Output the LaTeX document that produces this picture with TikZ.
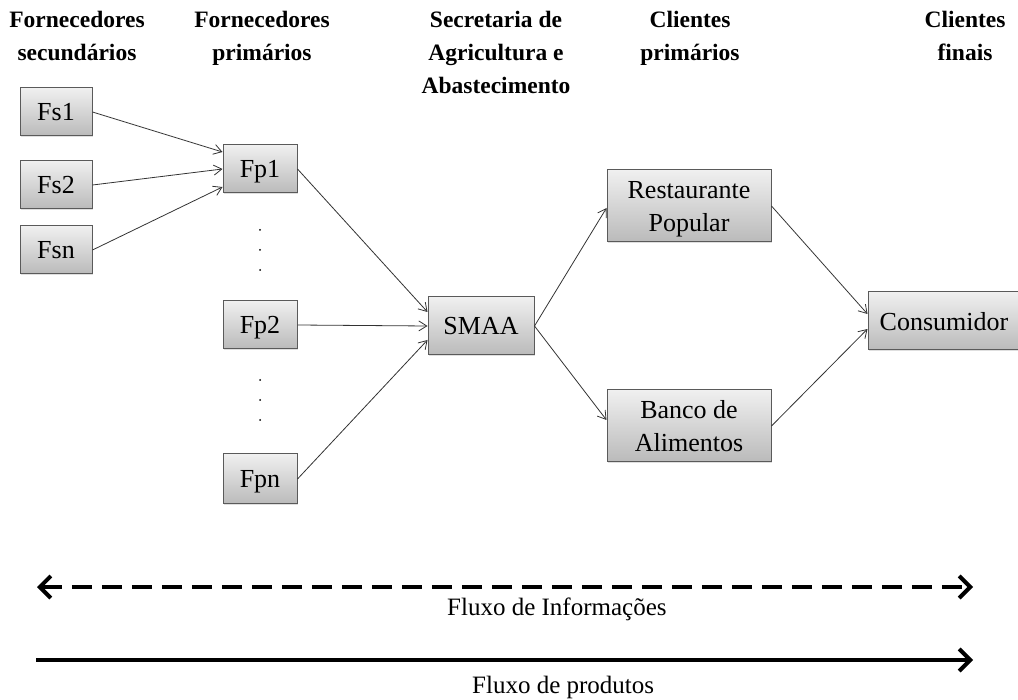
\documentclass[tikz,border=0pt]{standalone}
\usepackage{fontspec}
\setmainfont{Liberation Serif}
\usetikzlibrary{arrows.meta,shadows}
\definecolor{boxline}{HTML}{5A5A5A}
\definecolor{arrline}{HTML}{333333}
\begin{document}
\begin{tikzpicture}[x=1pt,y=-1pt,
  header/.style={font=\fontsize{23.5}{33}\selectfont\bfseries, align=center, anchor=north, inner sep=0pt},
  box/.style={draw=boxline, line width=1pt, top color=white!94!black, bottom color=black!27,
     font=\fontsize{26}{33}\selectfont, align=center, inner sep=0pt, text depth=0pt,
     drop shadow={opacity=0.25, shadow xshift=1.2pt, shadow yshift=-1.5pt}},
  arr/.style={draw=arrline, line width=0.8pt, -{Straight Barb[length=8pt,width=10pt]}},
  bigarr/.style={line width=4pt},
  dot/.style={circle, fill=black, inner sep=0pt, minimum size=2pt},
  caption/.style={font=\fontsize{25}{30}\selectfont, anchor=west, inner sep=0pt}
]
\useasboundingbox (0,0) rectangle (1018,700);

% headers
\node[header] (h1) at (77,11) {Fornecedores\\secundários};
\node[header] (h2) at (262,11) {Fornecedores\\primários};
\node[header] (h3) at (496,11) {Secretaria de\\Agricultura e\\Abastecimento};
\node[header] (h4) at (690,11) {Clientes\\primários};
\node[header] (h5) at (965,11) {Clientes\\finais};

% boxes
\node[box, minimum width=72pt, minimum height=48pt] (fs1) at (56,112) {Fs1};
\node[box, minimum width=72pt, minimum height=48pt] (fs2) at (56,185) {Fs2};
\node[box, minimum width=72pt, minimum height=48pt] (fsn) at (56,250) {Fsn};
\node[box, minimum width=74pt, minimum height=48pt] (fp1) at (260,169) {Fp1};
\node[box, minimum width=74pt, minimum height=48pt] (fp2) at (260,325) {Fp2};
\node[box, minimum width=74pt, minimum height=50pt] (fpn) at (260,479) {Fpn};
\node[box, minimum width=106pt, minimum height=58pt] (smaa) at (481,326) {SMAA};
\node[box, minimum width=164pt, minimum height=72pt] (rest) at (689,206) {Restaurante\\Popular};
\node[box, minimum width=164pt, minimum height=72pt] (banco) at (689,426) {Banco de\\Alimentos};
\node[box, minimum width=156pt, minimum height=58pt] (cons) at (946,321) {\hspace*{-4pt}Consumidor};

% dots
\node[dot] (d1) at (260,230) {};
\node[dot] (d2) at (260,250) {};
\node[dot] (d3) at (260,270) {};
\node[dot] (d4) at (260,380) {};
\node[dot] (d5) at (260,400) {};
\node[dot] (d6) at (260,420) {};

% connectors
\draw[arr] (fs1.east) -- ([yshift=17pt]fp1.west);
\draw[arr] (fs2.east) -- (fp1.west);
\draw[arr] (fsn.east) -- ([yshift=-18pt]fp1.west);
\draw[arr] (fp1.east) -- ([yshift=14pt]smaa.west);
\draw[arr] (fp2.east) -- (smaa.west);
\draw[arr] (fpn.east) -- ([yshift=-14pt]smaa.west);
\draw[arr] (smaa.east) -- ([yshift=-2pt]rest.west);
\draw[arr] (smaa.east) -- ([yshift=6pt]banco.west);
\draw[arr] (rest.east) -- ([yshift=7pt]cons.west);
\draw[arr] (banco.east) -- ([yshift=-8pt]cons.west);

% flows
\coordinate (il) at (37,587);
\coordinate (ir) at (973,587);
\coordinate (pl) at (36,660);
\coordinate (pr) at (973,660);
\draw[bigarr, dash pattern=on 20pt off 10pt, {Straight Barb[length=11pt,width=22pt]}-{Straight Barb[length=11pt,width=22pt]}] (il) -- (ir);
\draw[bigarr, -{Straight Barb[length=11pt,width=22pt]}] (pl) -- (pr);
\node[caption] (fi) at (447,609) {Fluxo de Informações};
\node[caption] (fprod) at (472,687) {Fluxo de produtos};
\end{tikzpicture}
\end{document}
